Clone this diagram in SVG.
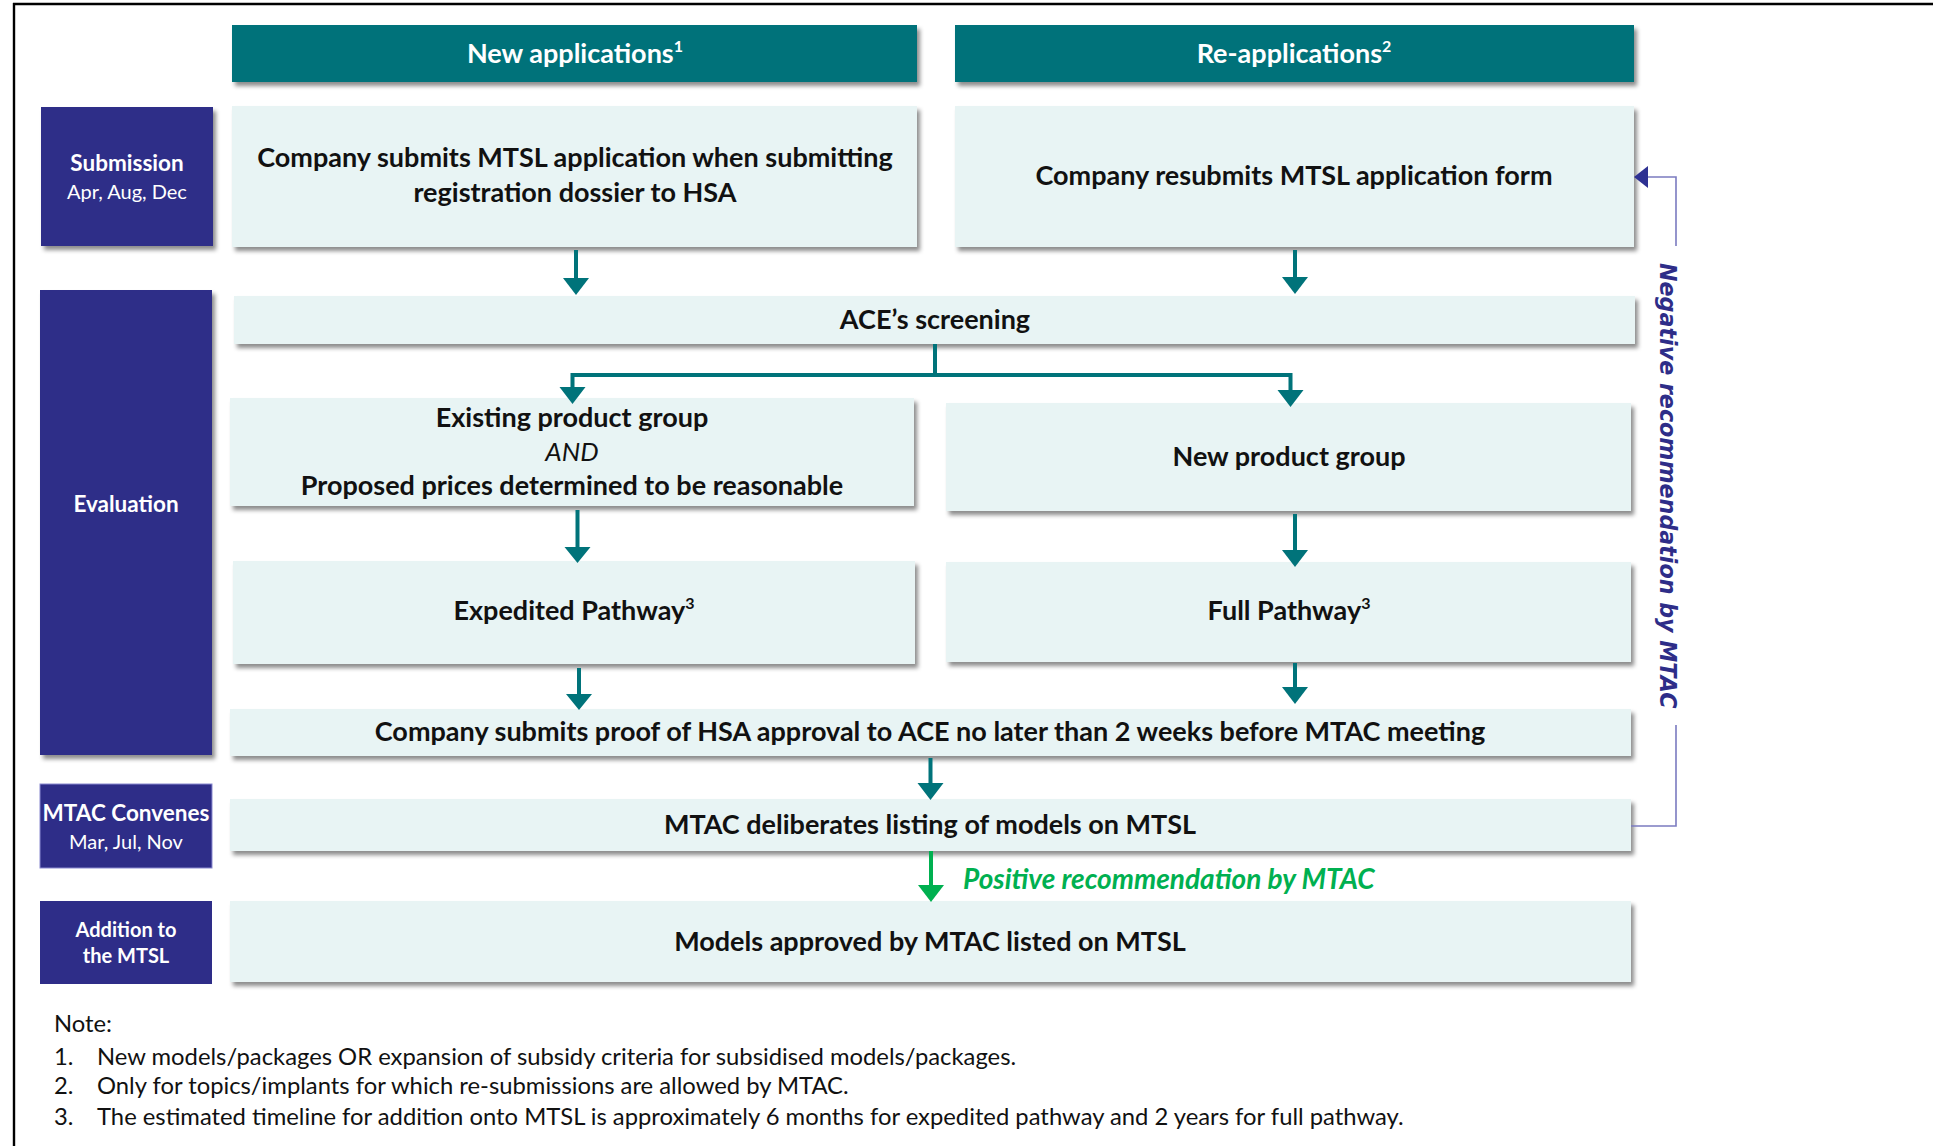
<svg xmlns="http://www.w3.org/2000/svg" width="1933" height="1146" viewBox="0 0 1933 1146">
  <style>
    .hdr { fill: #00727A; }
    .box { fill: #E8F4F4; }
    .lbl { fill: #2E2D88; }
    .t { font-family: Lato, "Open Sans", sans-serif; text-anchor: middle; }
    .bt { font-weight: 700; font-size: 27px; fill: #111; }
    .it { font-weight: 400; font-style: italic; font-size: 26px; fill: #111; }
    .ht { font-weight: 700; font-size: 27px; fill: #fff; }
    .lt { font-weight: 700; font-size: 22.5px; fill: #fff; }
    .ls { font-weight: 400; font-size: 20px; fill: #fff; }
    .sm { font-weight: 700; font-size: 20px; fill: #fff; }
    .note { font-family: Lato, "Open Sans", sans-serif; font-size: 23.8px; fill: #111; }
    .arr { stroke: #00737A; stroke-width: 4; fill: none; }
    .head { fill: #00737A; }
    .neg { stroke: #7B7BC0; stroke-width: 1.6; fill: none; }
  </style>
  <defs>
    <filter id="sh" x="-5%" y="-20%" width="115%" height="150%">
      <feDropShadow dx="3" dy="4" stdDeviation="2" flood-color="#000" flood-opacity="0.45"/>
    </filter>
  </defs>

  <rect width="1933" height="1146" fill="#fff"/>

  <!-- frame -->
  <g id="frame" stroke="#000" fill="none">
    <line x1="13" y1="4" x2="1933" y2="4" stroke-width="2.5"/>
    <line x1="14" y1="3" x2="14" y2="1146" stroke-width="2.4"/>
  </g>

  <!-- column headers -->
  <g id="hdr-new">
    <rect class="hdr" x="232" y="25" width="685" height="57" filter="url(#sh)"/>
    <text class="t ht" x="575" y="63">New applications<tspan font-size="16" dy="-11">1</tspan></text>
  </g>
  <g id="hdr-re">
    <rect class="hdr" x="955" y="25" width="679" height="57" filter="url(#sh)"/>
    <text class="t ht" x="1294" y="63">Re-applications<tspan font-size="16" dy="-11">2</tspan></text>
  </g>

  <!-- stage labels -->
  <g id="lbl-submission">
    <rect class="lbl" x="41" y="107" width="172" height="139" filter="url(#sh)"/>
    <text class="t lt" x="127" y="171">Submission</text>
    <text class="t ls" x="127" y="199">Apr, Aug, Dec</text>
  </g>
  <g id="lbl-evaluation">
    <rect class="lbl" x="40" y="290" width="172" height="465" filter="url(#sh)"/>
    <text class="t lt" x="126" y="512">Evaluation</text>
  </g>
  <g id="lbl-mtac">
    <rect class="lbl" x="40" y="784" width="172" height="84" stroke="#8A8AD0" stroke-width="1"/>
    <text class="t lt" x="126" y="821">MTAC Convenes</text>
    <text class="t ls" x="126" y="849">Mar, Jul, Nov</text>
  </g>
  <g id="lbl-addition">
    <rect class="lbl" x="40" y="901" width="172" height="83"/>
    <text class="t sm" x="126" y="937">Addition to</text>
    <text class="t sm" x="126" y="963">the MTSL</text>
  </g>

  <!-- process steps -->
  <g id="step-submit-new">
    <rect class="box" x="232" y="106" width="685" height="141" filter="url(#sh)"/>
    <text class="t bt" x="575" y="167">Company submits MTSL application when submitting</text>
    <text class="t bt" x="575" y="202">registration dossier to HSA</text>
  </g>
  <g id="step-submit-re">
    <rect class="box" x="955" y="106" width="679" height="141" filter="url(#sh)"/>
    <text class="t bt" x="1294" y="185">Company resubmits MTSL application form</text>
  </g>
  <g id="step-screening">
    <rect class="box" x="234" y="296" width="1401" height="48" filter="url(#sh)"/>
    <text class="t bt" x="935" y="329">ACE’s screening</text>
  </g>
  <g id="step-existing">
    <rect class="box" x="230" y="398" width="684" height="108" filter="url(#sh)"/>
    <text class="t bt" x="572" y="427">Existing product group</text>
    <text class="t it" x="572" y="461">AND</text>
    <text class="t bt" x="572" y="495">Proposed prices determined to be reasonable</text>
  </g>
  <g id="step-newgroup">
    <rect class="box" x="946" y="403" width="685" height="108" filter="url(#sh)"/>
    <text class="t bt" x="1289" y="466">New product group</text>
  </g>
  <g id="step-expedited">
    <rect class="box" x="233" y="561" width="682" height="103" filter="url(#sh)"/>
    <text class="t bt" x="574" y="620">Expedited Pathway<tspan font-size="16" dy="-11">3</tspan></text>
  </g>
  <g id="step-full">
    <rect class="box" x="946" y="562" width="685" height="100" filter="url(#sh)"/>
    <text class="t bt" x="1289" y="620">Full Pathway<tspan font-size="16" dy="-11">3</tspan></text>
  </g>
  <g id="step-proof">
    <rect class="box" x="230" y="709" width="1401" height="47" filter="url(#sh)"/>
    <text class="t bt" x="930" y="741">Company submits proof of HSA approval to ACE no later than 2 weeks before MTAC meeting</text>
  </g>
  <g id="step-deliberate">
    <rect class="box" x="230" y="799" width="1401" height="52" filter="url(#sh)"/>
    <text class="t bt" x="930" y="834">MTAC deliberates listing of models on MTSL</text>
  </g>
  <g id="step-listed">
    <rect class="box" x="230" y="901" width="1401" height="81" filter="url(#sh)"/>
    <text class="t bt" x="930" y="951">Models approved by MTAC listed on MTSL</text>
  </g>

  <!-- connectors -->
  <g id="connectors">
    <path class="arr" d="M576 250V280"/>
    <path class="head" d="M563 278H589L576 295Z"/>
    <path class="arr" d="M1295 250V279"/>
    <path class="head" d="M1282 277H1308L1295 294Z"/>

    <path class="arr" d="M935 344V375M572.5 389V375H1290.5V392" stroke-width="5"/>
    <path class="head" d="M559.5 387H585.5L572.5 404Z"/>
    <path class="head" d="M1277.5 390H1303.5L1290.5 407Z"/>

    <path class="arr" d="M577.5 510V549"/>
    <path class="head" d="M564.5 547H590.5L577.5 563Z"/>
    <path class="arr" d="M1295 514V552"/>
    <path class="head" d="M1282 550H1308L1295 567Z"/>

    <path class="arr" d="M579 668V696"/>
    <path class="head" d="M566 694H592L579 710Z"/>
    <path class="arr" d="M1295 663V689"/>
    <path class="head" d="M1282 687H1308L1295 704Z"/>

    <path class="arr" d="M930.5 758V785"/>
    <path class="head" d="M917.5 783H943.5L930.5 800Z"/>

    <path d="M931 851V887" stroke="#00B050" stroke-width="4" fill="none"/>
    <path d="M918 885H944L931 902Z" fill="#00B050"/>
    <text x="963" y="889" font-family="Lato, 'Open Sans', sans-serif" font-size="28" font-weight="700" font-style="italic" fill="#00B050">Positive recommendation by MTAC</text>

    <path class="neg" d="M1631 826H1676V725"/>
    <path class="neg" d="M1676 246V177H1646"/>
    <path d="M1634 177L1648 166V188Z" fill="#2E3192"/>
    <text transform="translate(1660,263) rotate(90)" font-family="'DejaVu Sans', Verdana, sans-serif" font-size="22.2" font-weight="700" font-style="italic" fill="#2E2D88">Negative recommendation by MTAC</text>
  </g>

  <!-- notes -->
  <g id="notes" class="note">
    <text x="54" y="1032">Note:</text>
    <text x="54" y="1065">1.</text>
    <text x="97" y="1065">New models/packages OR expansion of subsidy criteria for subsidised models/packages.</text>
    <text x="54" y="1094">2.</text>
    <text x="97" y="1094">Only for topics/implants for which re-submissions are allowed by MTAC.</text>
    <text x="54" y="1125">3.</text>
    <text x="97" y="1125">The estimated timeline for addition onto MTSL is approximately 6 months for expedited pathway and 2 years for full pathway.</text>
  </g>
</svg>
